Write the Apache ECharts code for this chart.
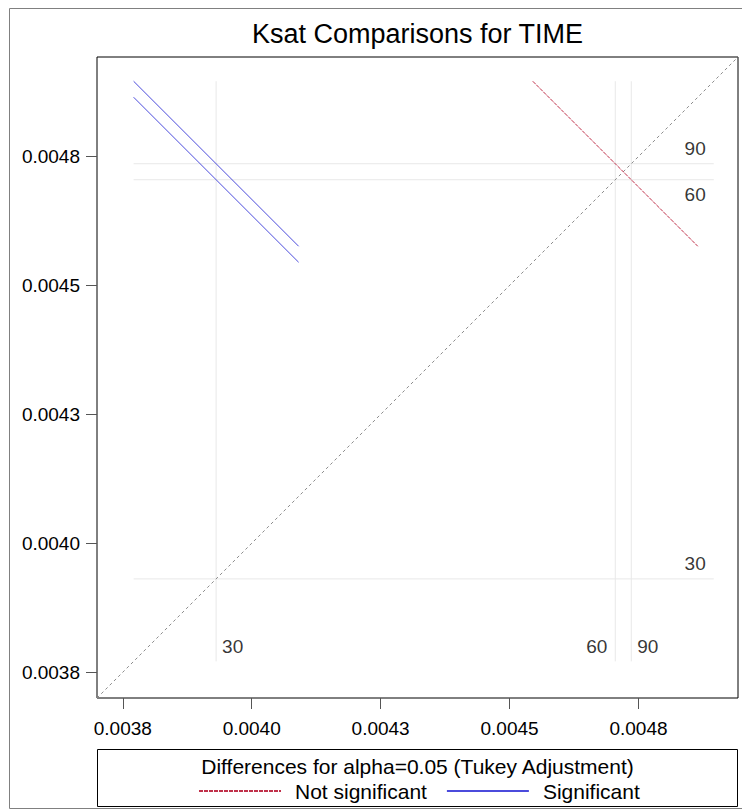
<!DOCTYPE html>
<html>
<head>
<meta charset="utf-8">
<script src="https://cdn.jsdelivr.net/npm/echarts@6/dist/echarts.min.js"></script>
<style>
  html, body { margin: 0; padding: 0; background: #fff; }
  #chart { width: 742px; height: 812px; }
</style>
</head>
<body>
<div id="chart"></div>
<script>
// TIME levels and their least-squares means of Ksat
const groups = ['30', '60', '90'];
const lsMeans = [0.003931, 0.004705, 0.004736];

// Pairwise comparisons (indices into groups), half-length of each
// diffogram segment in axis units, and the Tukey-adjusted verdict
const pairs = [[0, 1], [0, 2], [1, 2]];
const halfLength = [0.00016, 0.00016, 0.00016];
const significant = [true, true, false];

// Shared axis extent and tick labels
const axisRange = [0.0037, 0.004943];
const tickValues = [0.00375, 0.004, 0.00425, 0.0045, 0.00475];
const tickLabels = ['0.0038', '0.0040', '0.0043', '0.0045', '0.0048'];

// Which side of each reference line its group label sits on
const vLabelSide = ['right', 'left', 'right'];
const hLabelSide = ['above', 'below', 'above'];

const FONT = "'Liberation Sans', Arial, Helvetica, sans-serif";
const BLUE = '#4b4bdc';
const RED = '#c0304a';

const chart = echarts.init(document.getElementById('chart'), null, {
  renderer: 'svg', width: 742, height: 812
});

// Each comparison is a -45 degree segment centred on (mean a, mean b)
const segments = pairs.map(([a, b], k) => {
  const x = lsMeans[a], y = lsMeans[b], h = halfLength[k];
  return [[x - h, y + h], [x + h, y - h]];
});
const allCoords = segments.flat().flat();
const refLo = Math.min(...allCoords);
const refHi = Math.max(...allCoords);

function refLine(data) {
  return {
    type: 'line', data, symbol: 'none', silent: true, animation: false,
    lineStyle: { color: '#e8e8e8', width: 1 }, z: 1
  };
}

const series = [];
groups.forEach((g, i) => {
  const m = lsMeans[i];
  series.push(refLine([[m, refLo], [m, refHi]]));
  series.push(refLine([[refLo, m], [refHi, m]]));
});

// y = x reference diagonal
series.push({
  type: 'line', symbol: 'none', silent: true, animation: false, z: 2,
  data: [[axisRange[0], axisRange[0]], [axisRange[1], axisRange[1]]],
  lineStyle: { color: '#8c8c8c', width: 1, type: [3, 3] }
});

segments.forEach((seg, k) => {
  const sig = significant[k];
  const col = sig ? BLUE : RED;
  series.push({
    name: sig ? 'Significant' : 'Not significant',
    type: 'line', data: seg, symbol: 'none', silent: true, animation: false, z: 3,
    color: col,
    lineStyle: { color: col, width: 1, type: sig ? 'solid' : [4, 1] }
  });
});

const labelStyle = { show: true, fontSize: 19, color: '#000', fontFamily: FONT };

// group labels at the lower end of the vertical reference lines
series.push({
  type: 'scatter', symbolSize: 0, silent: true, animation: false, z: 4,
  data: groups.map((g, i) => ({
    value: [lsMeans[i], refLo],
    label: { position: vLabelSide[i], distance: vLabelSide[i] === 'left' ? 8 : 6 }
  })),
  label: Object.assign({}, labelStyle, {
    formatter: p => groups[p.dataIndex], offset: [0, -15]
  })
});

// group labels at the right end of the horizontal reference lines
series.push({
  type: 'scatter', symbolSize: 0, silent: true, animation: false, z: 4,
  data: groups.map((g, i) => ({
    value: [refHi, lsMeans[i]],
    label: { offset: [0, hLabelSide[i] === 'below' ? 15 : -15] }
  })),
  label: Object.assign({}, labelStyle, {
    formatter: p => groups[p.dataIndex], position: 'left', distance: 8
  })
});

function tickText(v) {
  const idx = tickValues.findIndex(t => Math.abs(t - v) < 1e-9);
  return idx >= 0 ? tickLabels[idx] : '';
}

function makeAxis(margin) {
  return {
    type: 'value', min: axisRange[0], max: axisRange[1],
    axisLine: { show: false },
    splitLine: { show: false },
    axisTick: {
      show: true, length: 11, customValues: tickValues,
      lineStyle: { color: '#555', width: 1 }
    },
    axisLabel: {
      customValues: tickValues, formatter: tickText, margin,
      fontSize: 19, color: '#000', fontFamily: FONT
    }
  };
}

const option = {
  backgroundColor: '#fff',
  animation: false,
  title: {
    text: 'Ksat Comparisons for TIME',
    left: 417.5, top: 20, textAlign: 'center', padding: 0,
    textStyle: { fontSize: 27, fontWeight: 'normal', color: '#000', fontFamily: FONT }
  },
  grid: {
    left: 97, top: 57, width: 641, height: 641,
    show: true, borderColor: '#000', borderWidth: 1, backgroundColor: 'transparent'
  },
  xAxis: makeAxis(21),
  yAxis: makeAxis(17),
  legend: {
    data: ['Not significant', 'Significant'],
    left: 198, top: 780, padding: 0,
    itemWidth: 82, itemHeight: 14, itemGap: 19,
    selectedMode: false,
    itemStyle: { opacity: 0 },
    textStyle: { fontSize: 21, color: '#000', fontFamily: FONT, padding: [0, 0, 0, 9], lineHeight: 22 }
  },
  graphic: [
    {
      type: 'rect', silent: true, z: -10,
      shape: { x: 9.5, y: 8.5, width: 760, height: 800 },
      style: { fill: 'none', stroke: '#808080', lineWidth: 1 }
    },
    {
      type: 'rect', silent: true,
      shape: { x: 97.5, y: 749.5, width: 640, height: 57 },
      style: { fill: 'none', stroke: '#000', lineWidth: 1 }
    },
    {
      type: 'text', silent: true, x: 417.5, y: 766,
      style: {
        text: 'Differences for alpha=0.05 (Tukey Adjustment)',
        fill: '#000', font: '21px ' + FONT,
        textAlign: 'center', textVerticalAlign: 'middle'
      }
    }
  ],
  series
};

chart.setOption(option);
</script>
</body>
</html>
